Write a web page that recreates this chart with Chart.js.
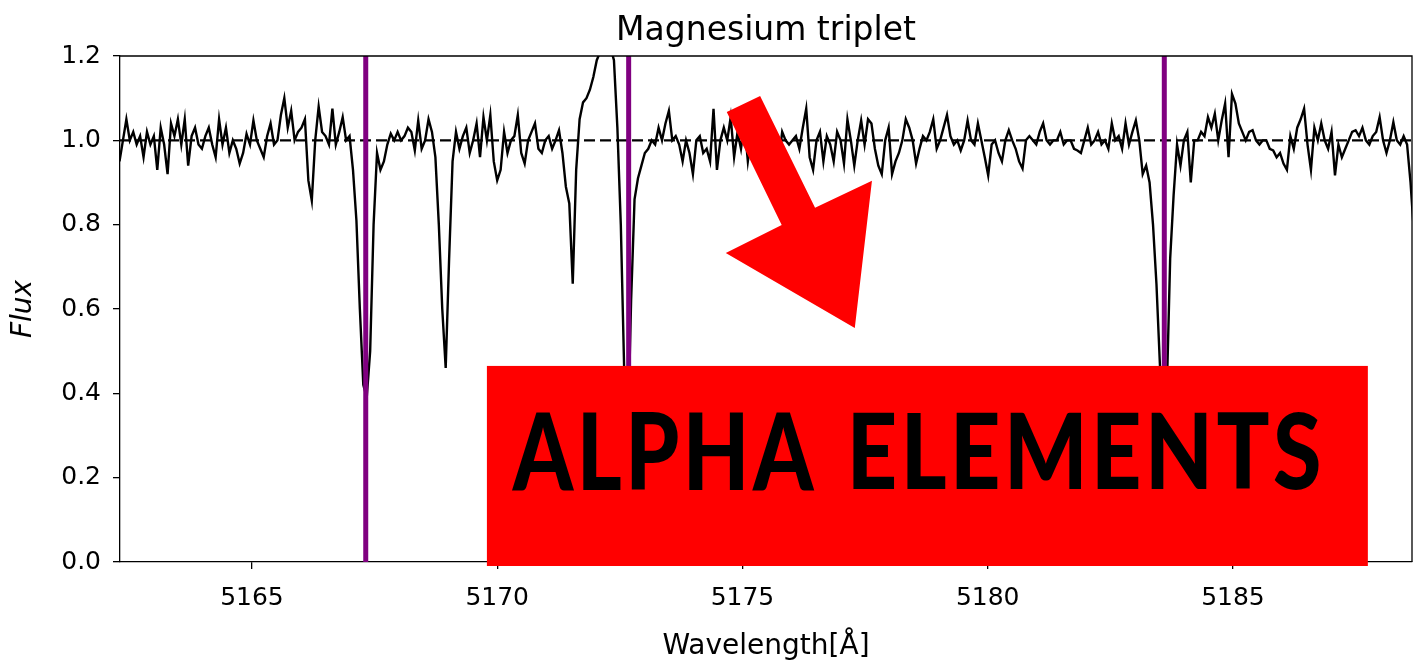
<!DOCTYPE html>
<html>
<head>
<meta charset="utf-8">
<script src="https://cdn.jsdelivr.net/npm/chart.js@4.4.1/dist/chart.umd.min.js"></script>
<style>
  html, body { margin: 0; padding: 0; background: #ffffff; }
  #wrap { width: 1422px; height: 664px; }
</style>
</head>
<body>
<div id="wrap"><canvas id="c" width="1422" height="664"></canvas></div>
<script>
// ---------------- data ----------------
const TITLE = 'Magnesium triplet';
const X_LABEL = 'Wavelength[Å]';
const Y_LABEL = 'Flux';
const WAVE_START = 5162.30;   // first sample of the wavelength grid (Å)
const WAVE_STEP = 0.07;       // grid spacing (Å)
const FLUX = [
  0.95, 1.00, 1.05, 1.00, 1.02, 0.99, 1.01, 0.96, 1.02, 0.99,
  1.01, 0.93, 1.03, 0.99, 0.92, 1.04, 1.01, 1.05, 0.99, 1.05,
  0.94, 1.01, 1.03, 0.99, 0.98, 1.01, 1.03, 0.99, 0.96, 1.05,
  0.99, 1.03, 0.97, 1.00, 0.98, 0.945, 0.97, 1.015, 0.99, 1.047,
  1.00, 0.98, 0.96, 1.01, 1.04, 0.99, 1.00, 1.06, 1.10, 1.03,
  1.07, 1.00, 1.02, 1.03, 1.05, 0.905, 0.857, 1.00, 1.08, 1.02,
  1.01, 0.99, 1.075, 0.99, 1.02, 1.055, 1.00, 1.01, 0.93, 0.81,
  0.60, 0.42, 0.39, 0.50, 0.80, 0.97, 0.93, 0.95, 0.99, 1.016,
  1.00, 1.02, 1.00, 1.01, 1.03, 1.02, 0.976, 1.047, 0.98, 1.00,
  1.05, 1.02, 0.96, 0.80, 0.60, 0.46, 0.72, 0.95, 1.02, 0.98,
  1.01, 1.03, 0.97, 1.00, 1.04, 0.96, 1.055, 1.00, 1.06, 0.95,
  0.905, 0.93, 1.02, 0.97, 1.00, 1.01, 1.06, 0.97, 0.945, 1.00,
  1.02, 1.04, 0.98, 0.97, 1.00, 1.01, 0.98, 1.00, 1.024, 0.97,
  0.89, 0.85, 0.66, 0.93, 1.05, 1.09, 1.10, 1.12, 1.15, 1.19,
  1.21, 1.22, 1.21, 1.22, 1.19, 1.03, 0.80, 0.45, 0.28, 0.62,
  0.86, 0.91, 0.94, 0.97, 0.98, 1.00, 0.99, 1.03, 1.00, 1.04,
  1.07, 1.00, 1.01, 0.99, 0.95, 1.00, 0.97, 0.92, 1.00, 1.01,
  0.97, 0.98, 0.95, 1.075, 0.93, 1.00, 1.03, 1.00, 1.055, 0.96,
  1.02, 0.98, 1.04, 0.95, 1.01, 0.97, 1.03, 0.96, 1.00, 1.04,
  0.97, 1.01, 0.95, 1.02, 1.00, 0.99, 1.00, 1.01, 0.98, 1.03,
  1.075, 0.96, 0.93, 1.00, 1.02, 0.95, 1.01, 0.99, 0.95, 1.02,
  1.00, 0.945, 1.05, 1.00, 0.94, 1.00, 1.047, 0.99, 1.05, 1.04,
  0.98, 0.94, 0.92, 1.00, 1.03, 0.92, 0.95, 0.97, 1.00, 1.05,
  1.03, 1.00, 0.945, 0.98, 1.01, 1.00, 1.02, 1.05, 0.98, 1.00,
  1.03, 1.06, 1.01, 0.99, 1.00, 0.976, 1.00, 1.047, 1.00, 0.99,
  1.04, 1.00, 0.96, 0.917, 0.99, 1.00, 0.97, 0.95, 1.00, 1.024,
  1.00, 0.98, 0.95, 0.933, 1.00, 1.01, 1.00, 0.99, 1.02, 1.04,
  1.00, 0.99, 1.00, 1.00, 1.02, 0.99, 1.00, 1.00, 0.98, 0.976,
  0.97, 1.00, 1.03, 0.99, 1.00, 1.02, 0.99, 1.00, 0.98, 1.04,
  1.00, 1.01, 0.98, 1.04, 0.99, 1.02, 1.047, 1.00, 0.92, 0.94,
  0.90, 0.80, 0.66, 0.47, 0.26, 0.40, 0.72, 0.87, 0.99, 0.94,
  1.00, 1.02, 0.90, 1.00, 1.00, 1.02, 1.01, 1.055, 1.03, 1.063,
  1.00, 1.047, 1.087, 0.96, 1.11, 1.087, 1.04, 1.02, 1.00, 1.02,
  1.024, 1.00, 0.99, 1.00, 1.00, 0.98, 0.976, 0.96, 0.97, 0.945,
  0.93, 1.01, 0.98, 1.03, 1.05, 1.075, 0.99, 0.93, 1.03, 1.00,
  1.04, 1.00, 0.98, 1.02, 0.917, 0.99, 0.96, 0.98, 1.00, 1.02,
  1.024, 1.01, 1.03, 1.00, 0.99, 1.01, 1.02, 1.055, 1.00, 0.97,
  1.00, 1.043, 1.00, 0.99, 1.01, 0.99, 0.90, 0.78
];
const MG_LINES = [5167.32, 5172.68, 5183.60];   // Mg b triplet markers
const CONTINUUM = 1.0;
const X_MIN = 5162.31, X_MAX = 5188.65;
const X_TICKS = [5165, 5170, 5175, 5180, 5185];
const Y_TICKS = [0.0, 0.2, 0.4, 0.6, 0.8, 1.0, 1.2];
const BANNER_WORDS = ['ALPHA', 'ELEMENTS'];

// annotation geometry, in data units (wavelength, flux)
const BANNER_BOX = { x0: 5169.79, x1: 5187.75, y0: -0.0095, y1: 0.465 };
const BANNER_WORD_BOXES = [
  { x0: 5170.30, x1: 5176.48, y0: 0.171, y1: 0.356 },
  { x0: 5177.25, x1: 5186.75, y0: 0.171, y1: 0.356 }
];
const ARROW_POLY = [
  [5174.68, 1.067], [5175.36, 1.105], [5176.48, 0.840], [5177.64, 0.904],
  [5177.29, 0.555], [5174.66, 0.733], [5175.80, 0.799]
];

// ---------------- build ----------------
const WAVELENGTH = FLUX.map((_, i) => +(WAVE_START + i * WAVE_STEP).toFixed(2));
const spectrum = WAVELENGTH.map((w, i) => ({ x: w, y: FLUX[i] }));
const FONT = '"DejaVu Sans", "Liberation Sans", sans-serif';

const mgDatasets = MG_LINES.map(w => ({
  label: 'Mg ' + w,
  data: [{ x: w, y: Y_TICKS[0] }, { x: w, y: Y_TICKS[Y_TICKS.length - 1] }],
  borderColor: '#800080',
  borderWidth: 5,
  pointRadius: 0,
  order: 0
}));

function fitText(ctx, text, x0, y0, x1, y1) {
  ctx.save();
  ctx.font = '900 100px Lato, Roboto, "DejaVu Sans", sans-serif';
  try { ctx.letterSpacing = '4px'; } catch (e) {}
  ctx.textBaseline = 'alphabetic';
  ctx.textAlign = 'left';
  const m = ctx.measureText(text);
  const w = m.actualBoundingBoxLeft + m.actualBoundingBoxRight;
  const h = m.actualBoundingBoxAscent + m.actualBoundingBoxDescent;
  ctx.translate(x0, y0);
  ctx.scale((x1 - x0) / w, (y1 - y0) / h);
  ctx.fillStyle = '#000';
  ctx.fillText(text, m.actualBoundingBoxLeft, m.actualBoundingBoxAscent);
  ctx.restore();
}

const overlayPlugin = {
  id: 'overlay',
  afterDatasetsDraw(chart) {
    const { ctx, chartArea: a } = chart;
    ctx.save();
    ctx.strokeStyle = '#000';
    ctx.lineWidth = 1.3;
    ctx.beginPath();
    ctx.moveTo(a.left, a.top); ctx.lineTo(a.right, a.top); ctx.lineTo(a.right, a.bottom);
    ctx.stroke();
    ctx.restore();
  },
  afterDraw(chart) {
    const { ctx } = chart;
    const xs = chart.scales.x, ys = chart.scales.y;
    const px = v => xs.getPixelForValue(v), py = v => ys.getPixelForValue(v);
    ctx.save();
    ctx.fillStyle = '#ff0000';
    const bx0 = px(BANNER_BOX.x0), bx1 = px(BANNER_BOX.x1);
    const by0 = py(BANNER_BOX.y1), by1 = py(BANNER_BOX.y0);
    ctx.fillRect(bx0, by0, bx1 - bx0, by1 - by0);
    ctx.beginPath();
    ARROW_POLY.forEach((p, i) => {
      const X = px(p[0]), Y = py(p[1]);
      if (i === 0) ctx.moveTo(X, Y); else ctx.lineTo(X, Y);
    });
    ctx.closePath();
    ctx.fill();
    ctx.restore();
    BANNER_WORDS.forEach((word, i) => {
      const b = BANNER_WORD_BOXES[i];
      fitText(ctx, word, px(b.x0), py(b.y1), px(b.x1), py(b.y0));
    });
  }
};

new Chart(document.getElementById('c'), {
  type: 'line',
  data: {
    datasets: [
      ...mgDatasets,
      {
        label: 'continuum',
        data: [{ x: X_MIN, y: CONTINUUM }, { x: X_MAX, y: CONTINUUM }],
        borderColor: '#000',
        borderWidth: 2.3,
        borderDash: [11, 5],
        pointRadius: 0,
        order: 1
      },
      {
        label: 'spectrum',
        data: spectrum,
        borderColor: '#000',
        borderWidth: 2.4,
        pointRadius: 0,
        tension: 0,
        order: 2
      }
    ]
  },
  options: {
    responsive: false,
    animation: false,
    devicePixelRatio: 1,
    layout: { padding: { left: 0, right: 10, top: 0, bottom: 0 } },
    plugins: {
      legend: { display: false },
      tooltip: { enabled: false },
      title: {
        display: true,
        fullSize: false,
        text: TITLE,
        color: '#000',
        font: { family: FONT, size: 33, weight: 'normal' },
        padding: { top: 12, bottom: 4.4 }
      }
    },
    scales: {
      x: {
        type: 'linear',
        min: X_MIN,
        max: X_MAX,
        afterBuildTicks: s => { s.ticks = X_TICKS.map(v => ({ value: v })); },
        afterFit: s => { s.height = 102; },
        ticks: {
          color: '#000',
          font: { family: FONT, size: 25 },
          padding: 14,
          maxRotation: 0,
          autoSkip: false,
          callback: v => String(v)
        },
        grid: { drawOnChartArea: false, drawTicks: true, tickLength: 7, color: '#000', lineWidth: 1.3 },
        border: { display: true, color: '#000', width: 1.3 },
        title: {
          display: true,
          text: X_LABEL,
          color: '#000',
          font: { family: FONT, size: 28 },
          padding: { top: 0, bottom: 0 }
        }
      },
      y: {
        type: 'linear',
        min: 0,
        max: 1.2,
        afterBuildTicks: s => { s.ticks = Y_TICKS.map(v => ({ value: v })); },
        afterFit: s => { s.width = 120; },
        ticks: {
          color: '#000',
          font: { family: FONT, size: 25 },
          padding: 12,
          callback: v => Number(v).toFixed(1)
        },
        grid: { drawOnChartArea: false, drawTicks: true, tickLength: 7, color: '#000', lineWidth: 1.3 },
        border: { display: true, color: '#000', width: 1.3 },
        title: {
          display: true,
          text: Y_LABEL,
          color: '#000',
          font: { family: FONT, size: 28, style: 'italic' },
          padding: { top: 7, bottom: 0 }
        }
      }
    }
  },
  plugins: [overlayPlugin]
});
</script>
</body>
</html>
